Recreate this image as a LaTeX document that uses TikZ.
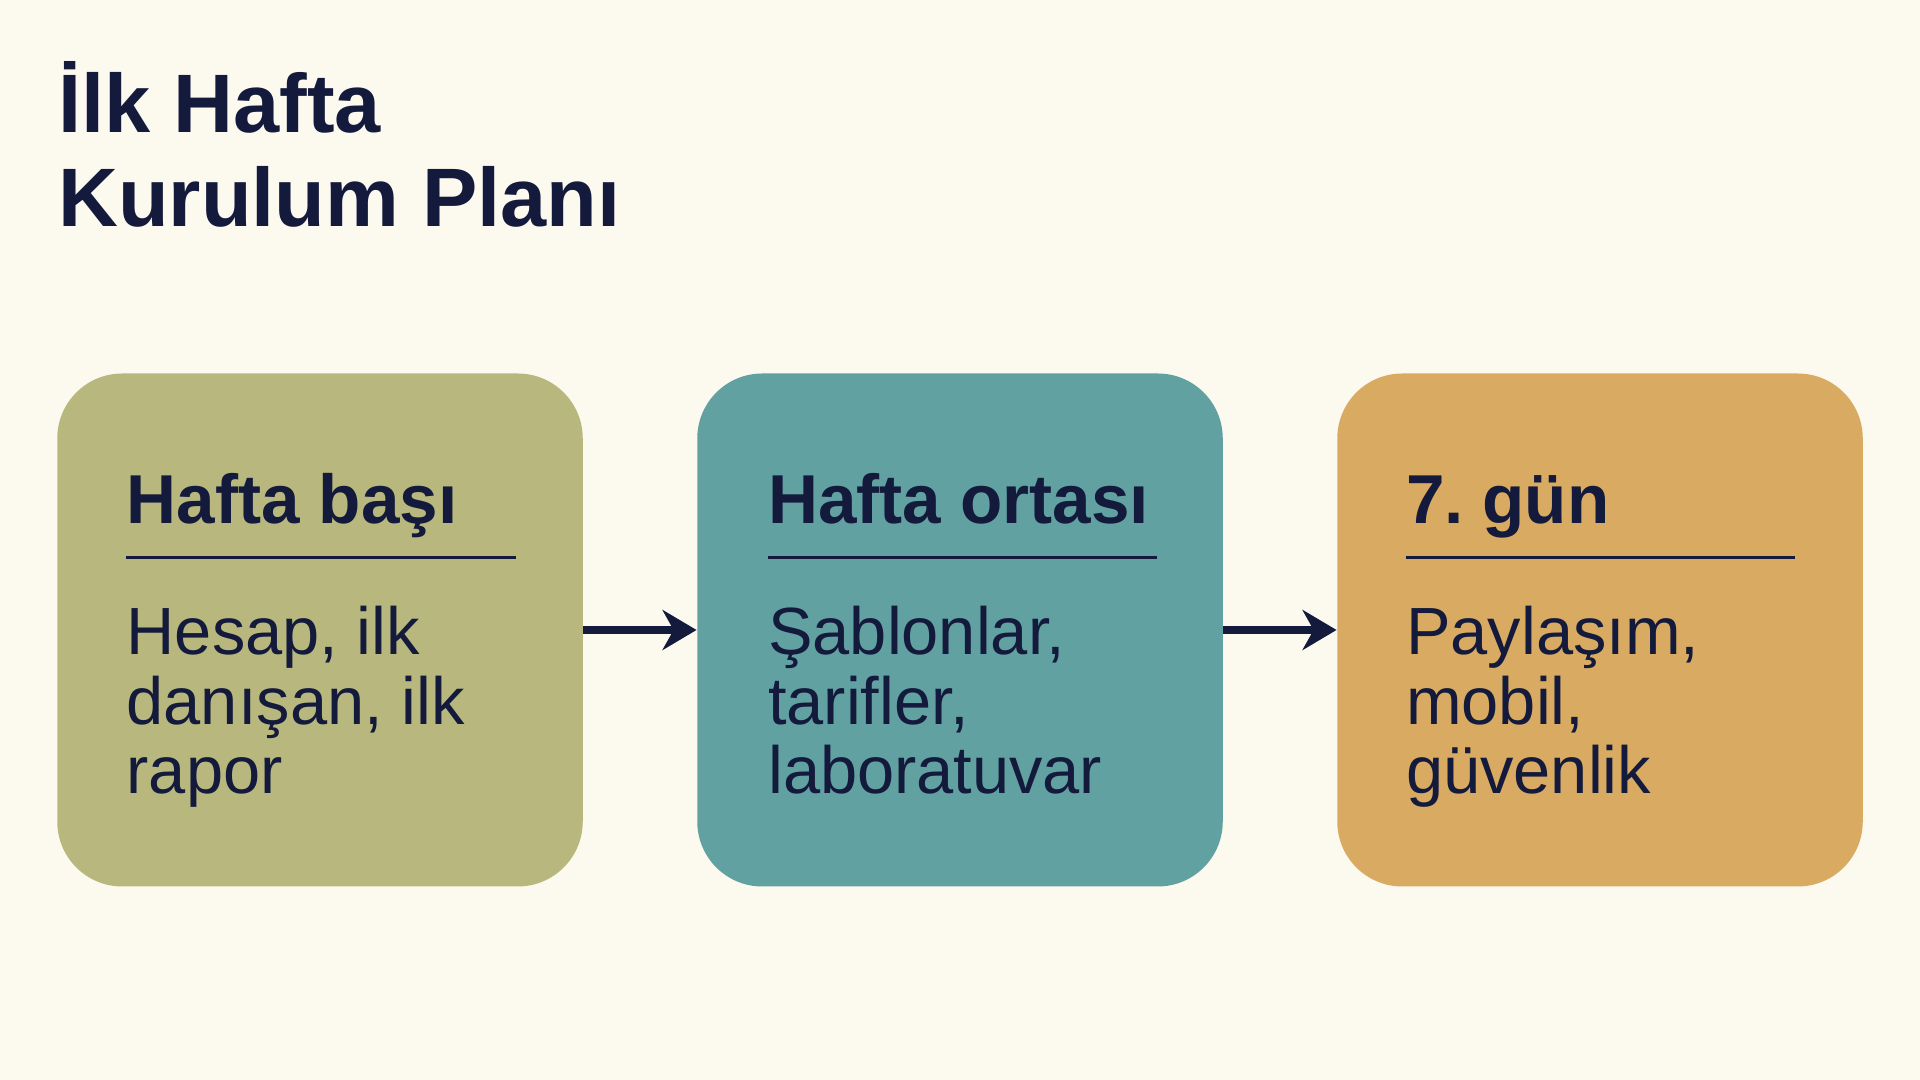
\documentclass[tikz,border=0pt]{standalone}
\usepackage{fontspec}
\setmainfont{Liberation Sans}
\usetikzlibrary{arrows.meta}
\definecolor{bgC}{HTML}{FCF9EF}
\definecolor{inkC}{HTML}{141A3C}
\definecolor{oliveC}{HTML}{B8B87E}
\definecolor{tealC}{HTML}{62A1A1}
\definecolor{amberC}{HTML}{D9AB62}
\tikzset{
  stage/.style={rounded corners=0.65cm, minimum width=5.255cm, minimum height=5.13cm, inner sep=0pt},
  headtxt/.style={anchor=base west, inner sep=0pt, text=inkC, font=\fontsize{19.7}{24}\selectfont\bfseries},
  bodytxt/.style={anchor=base west, inner sep=0pt, text=inkC, align=left, font=\fontsize{19}{19.8}\selectfont},
  flowarrow/.style={-{Stealth[length=0.34cm, width=0.4cm]}, line width=0.08cm, inkC},
  rulel/.style={line width=0.03cm, inkC}
}
\begin{document}
\begin{tikzpicture}
    % Background
    \useasboundingbox (0,0) rectangle (19.2,10.8);
    \fill[bgC] (0,0) rectangle (19.2,10.8);

    % Title (base = last line)
    \node[anchor=base west, inner sep=0pt, text=inkC, align=left, font=\fontsize{23.6}{26.8}\selectfont\bfseries] (title) at (0.576,8.535) {İlk Hafta\\Kurulum Planı};

    % Stages
    \node[stage, fill=oliveC] (basi) at (3.2,4.5) {};
    \node[stage, fill=tealC] (ortasi) at (9.6,4.5) {};
    \node[stage, fill=amberC] (gun) at (16.0,4.5) {};

    % Headings and rules
    \node[headtxt] (basiH) at (1.26,5.56) {Hafta başı};
    \draw[rulel] (1.26,5.22) -- (5.155,5.22);
    \node[headtxt] (ortasiH) at (7.675,5.56) {Hafta ortası};
    \draw[rulel] (7.675,5.22) -- (11.57,5.22);
    \node[headtxt] (gunH) at (14.055,5.56) {7.\hspace{-0.1em} gün};
    \draw[rulel] (14.055,5.22) -- (17.95,5.22);

    % Contents (base = last line)
    \node[bodytxt] (basiB) at (1.26,2.86) {Hesap, ilk\\danışan, ilk\\rapor};
    \node[bodytxt] (ortasiB) at (7.675,2.86) {Şablonlar,\\tarifler,\\laboratuvar};
    \node[bodytxt] (gunB) at (14.055,2.86) {Paylaşım,\\mobil,\\güvenlik};

    % Flow
    \draw[flowarrow] (basi.east) -- (ortasi.west);
    \draw[flowarrow] (ortasi.east) -- (gun.west);
\end{tikzpicture}
\end{document}
